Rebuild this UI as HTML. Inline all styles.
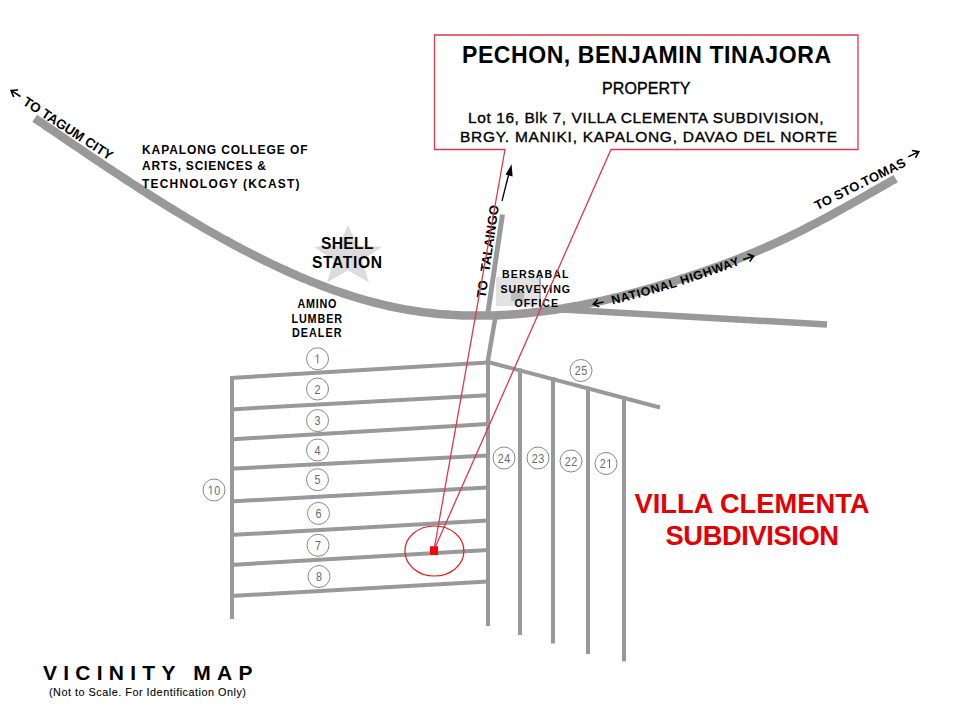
<!DOCTYPE html>
<html><head><meta charset="utf-8"><style>
html,body{margin:0;padding:0;background:#fff;overflow:hidden;}
svg{display:block;font-family:"Liberation Sans",sans-serif;}
</style></head><body>
<svg width="960" height="720" viewBox="0 0 960 720">
<rect width="960" height="720" fill="#fff"/>
<polygon fill="#dcdcdc" points="348.0,224.4 356.8,245.6 381.8,246.7 362.3,260.8 368.9,282.6 348.0,270.2 327.1,282.6 333.7,260.8 314.2,246.7 339.2,245.6"/>
<rect x="496" y="277" width="44" height="29" fill="#e2e2e2"/>
<rect x="539" y="277" width="2" height="29" fill="#aaaaaa"/>
<rect x="511" y="290" width="13" height="11" fill="#bdbdbd"/>
<g fill="none" stroke="#999999" stroke-linecap="butt" stroke-linejoin="round">
<path d="M34.7,118.2 L38.7,120.9 L42.7,123.6 L46.7,126.4 L50.7,129.1 L54.7,131.8 L58.7,134.6 L62.7,137.3 L66.7,140.0 L70.7,142.7 L74.7,145.4 L78.7,148.1 L82.7,150.8 L86.7,153.5 L90.7,156.2 L94.7,158.9 L98.7,161.6 L102.7,164.2 L106.7,166.9 L110.7,169.6 L114.7,172.2 L118.7,174.8 L122.7,177.5 L126.7,180.1 L130.7,182.7 L134.7,185.3 L138.7,187.9 L142.7,190.4 L146.7,193.0 L150.7,195.6 L154.7,198.1 L158.7,200.6 L162.7,203.1 L166.7,205.6 L170.7,208.1 L174.7,210.5 L178.7,213.0 L182.7,215.4 L186.7,217.8 L190.7,220.2 L194.7,222.6 L198.7,224.9 L202.7,227.3 L206.7,229.6 L210.7,231.9 L214.7,234.1 L218.7,236.4 L222.7,238.6 L226.7,240.8 L230.7,243.0 L234.7,245.2 L238.7,247.3 L242.7,249.4 L246.7,251.5 L250.7,253.6 L254.7,255.6 L258.7,257.6 L262.7,259.6 L266.7,261.6 L270.7,263.5 L274.7,265.4 L278.7,267.3 L282.7,269.2 L286.7,271.0 L290.7,272.8 L294.7,274.5 L298.7,276.3 L302.7,278.0 L306.7,279.6 L310.7,281.3 L314.7,282.9 L318.7,284.4 L322.7,286.0 L326.7,287.5 L330.7,288.9 L334.7,290.4 L338.7,291.8 L342.7,293.1 L346.7,294.4 L350.7,295.7 L354.7,297.0 L358.7,298.2 L362.7,299.4 L366.7,300.5 L370.7,301.6 L374.7,302.6 L378.7,303.7 L382.7,304.6 L386.7,305.6 L390.7,306.5 L394.7,307.3 L398.7,308.1 L402.7,308.9 L406.7,309.6 L410.7,310.3 L414.7,310.9 L418.7,311.5 L422.7,312.1 L426.7,312.6 L430.7,313.0 L434.7,313.5 L438.7,313.9 L442.7,314.2 L446.7,314.5 L450.7,314.8 L454.7,315.0 L458.7,315.2 L462.7,315.4 L466.7,315.5 L470.7,315.6 L474.7,315.6 L478.7,315.6 L482.7,315.6 L486.7,315.6 L490.7,315.5 L494.7,315.4 L498.7,315.2 L502.7,315.0 L506.7,314.8 L510.7,314.5 L514.7,314.2 L518.7,313.9 L522.7,313.6 L526.7,313.2 L530.7,312.8 L534.7,312.3 L538.7,311.8 L542.7,311.3 L546.7,310.8 L550.7,310.2 L554.7,309.7 L558.7,309.0 L562.7,308.4 L566.7,307.7 L570.7,307.0 L574.7,306.3 L578.7,305.6 L582.7,304.8 L586.7,304.0 L590.7,303.2 L594.7,302.3 L598.7,301.4 L602.7,300.6 L606.7,299.6 L610.7,298.7 L614.7,297.7 L618.7,296.8 L622.7,295.8 L626.7,294.7 L630.7,293.7 L634.7,292.6 L638.7,291.5 L642.7,290.4 L646.7,289.3 L650.7,288.2 L654.7,287.0 L658.7,285.8 L662.7,284.7 L666.7,283.4 L670.7,282.2 L674.7,281.0 L678.7,279.7 L682.7,278.4 L686.7,277.2 L690.7,275.8 L694.7,274.5 L698.7,273.2 L702.7,271.8 L706.7,270.4 L710.7,269.0 L714.7,267.6 L718.7,266.2 L722.7,264.7 L726.7,263.2 L730.7,261.7 L734.7,260.2 L738.7,258.6 L742.7,257.0 L746.7,255.4 L750.7,253.8 L754.7,252.1 L758.7,250.4 L762.7,248.7 L766.7,247.0 L770.7,245.2 L774.7,243.4 L778.7,241.6 L782.7,239.7 L786.7,237.8 L790.7,235.9 L794.7,233.9 L798.7,232.0 L802.7,229.9 L806.7,227.9 L810.7,225.8 L814.7,223.8 L818.7,221.6 L822.7,219.5 L826.7,217.4 L830.7,215.2 L834.7,213.0 L838.7,210.8 L842.7,208.6 L846.7,206.4 L850.7,204.1 L854.7,201.9 L858.7,199.6 L862.7,197.4 L866.7,195.1 L870.7,192.8 L874.7,190.5 L878.7,188.3 L882.7,186.0 L886.7,183.7 L890.7,181.4 L894.7,179.2 L895.7,178.6" stroke-width="8.5"/>
<line x1="562" y1="309.5" x2="827" y2="324.5" stroke-width="6.5"/>
<line x1="502.5" y1="214.5" x2="488" y2="312" stroke-width="5"/>
<line x1="495.6" y1="316" x2="487.5" y2="363" stroke-width="4.5"/>
</g>
<g fill="none" stroke="#999999" stroke-width="4" stroke-linecap="butt">
<line x1="232" y1="376" x2="232" y2="619"/>
<line x1="488" y1="361" x2="488" y2="626"/>
<line x1="488" y1="362" x2="660" y2="407.5"/>
<line x1="230" y1="378.0" x2="488" y2="362.5"/>
<line x1="230" y1="409.4" x2="488" y2="395.3"/>
<line x1="230" y1="439.4" x2="488" y2="424.0"/>
<line x1="230" y1="468.8" x2="488" y2="455.6"/>
<line x1="230" y1="501.5" x2="488" y2="487.5"/>
<line x1="230" y1="535.0" x2="488" y2="520.6"/>
<line x1="230" y1="565.0" x2="488" y2="550.0"/>
<line x1="230" y1="596.0" x2="488" y2="581.5"/>
<line x1="520" y1="368.5" x2="520" y2="635.0"/>
<line x1="553" y1="377.2" x2="553" y2="643.5"/>
<line x1="588" y1="386.5" x2="588" y2="654.0"/>
<line x1="624" y1="396.0" x2="624" y2="661.5"/>
</g>
<g fill="#fff" stroke="#888" stroke-width="1"><circle cx="317.5" cy="358.8" r="11"/><circle cx="317.5" cy="389.0" r="11"/><circle cx="317.5" cy="420.6" r="11"/><circle cx="317.5" cy="450.0" r="11"/><circle cx="317.5" cy="479.7" r="11"/><circle cx="318.5" cy="513.4" r="11"/><circle cx="318.0" cy="545.3" r="11"/><circle cx="319.0" cy="576.5" r="11"/><circle cx="214.0" cy="490.0" r="11"/><circle cx="504.0" cy="458.0" r="11"/><circle cx="538.0" cy="458.0" r="11"/><circle cx="571.0" cy="461.0" r="11"/><circle cx="606.0" cy="463.5" r="11"/><circle cx="581.0" cy="370.5" r="11"/></g>
<g><path d="M315.40,356.75 L317.80,354.65 L317.80,363.35" fill="none" stroke="#6a6a6a" stroke-width="1.0"/><text x="314.50" y="393.60" font-size="12.8" fill="#6a6a6a" textLength="6.00" lengthAdjust="spacingAndGlyphs">2</text><text x="314.50" y="425.20" font-size="12.8" fill="#6a6a6a" textLength="6.00" lengthAdjust="spacingAndGlyphs">3</text><text x="314.50" y="454.60" font-size="12.8" fill="#6a6a6a" textLength="6.00" lengthAdjust="spacingAndGlyphs">4</text><text x="314.50" y="484.30" font-size="12.8" fill="#6a6a6a" textLength="6.00" lengthAdjust="spacingAndGlyphs">5</text><text x="315.50" y="518.00" font-size="12.8" fill="#6a6a6a" textLength="6.00" lengthAdjust="spacingAndGlyphs">6</text><text x="315.00" y="549.90" font-size="12.8" fill="#6a6a6a" textLength="6.00" lengthAdjust="spacingAndGlyphs">7</text><text x="316.00" y="581.10" font-size="12.8" fill="#6a6a6a" textLength="6.00" lengthAdjust="spacingAndGlyphs">8</text><path d="M208.65,488.00 L211.05,485.90 L211.05,494.60" fill="none" stroke="#6a6a6a" stroke-width="1.0"/><text x="214.25" y="494.60" font-size="12.8" fill="#6a6a6a" textLength="6.00" lengthAdjust="spacingAndGlyphs">0</text><text x="497.75" y="462.60" font-size="12.8" fill="#6a6a6a" textLength="6.00" lengthAdjust="spacingAndGlyphs">2</text><text x="504.25" y="462.60" font-size="12.8" fill="#6a6a6a" textLength="6.00" lengthAdjust="spacingAndGlyphs">4</text><text x="531.75" y="462.60" font-size="12.8" fill="#6a6a6a" textLength="6.00" lengthAdjust="spacingAndGlyphs">2</text><text x="538.25" y="462.60" font-size="12.8" fill="#6a6a6a" textLength="6.00" lengthAdjust="spacingAndGlyphs">3</text><text x="564.75" y="465.60" font-size="12.8" fill="#6a6a6a" textLength="6.00" lengthAdjust="spacingAndGlyphs">2</text><text x="571.25" y="465.60" font-size="12.8" fill="#6a6a6a" textLength="6.00" lengthAdjust="spacingAndGlyphs">2</text><text x="599.75" y="468.10" font-size="12.8" fill="#6a6a6a" textLength="6.00" lengthAdjust="spacingAndGlyphs">2</text><path d="M607.15,461.50 L609.55,459.40 L609.55,468.10" fill="none" stroke="#6a6a6a" stroke-width="1.0"/><text x="574.75" y="375.10" font-size="12.8" fill="#6a6a6a" textLength="6.00" lengthAdjust="spacingAndGlyphs">2</text><text x="581.25" y="375.10" font-size="12.8" fill="#6a6a6a" textLength="6.00" lengthAdjust="spacingAndGlyphs">5</text></g>
<text x="462.0" y="63.0" font-size="23.00" font-weight="bold" fill="#000" text-anchor="start" textLength="369.0" lengthAdjust="spacing" >PECHON, BENJAMIN TINAJORA</text>
<text x="602.0" y="93.9" font-size="16.00" font-weight="normal" fill="#000" text-anchor="start" textLength="88.5" lengthAdjust="spacing" stroke="#000" stroke-width="0.35">PROPERTY</text>
<text x="468.0" y="122.5" font-size="15.50" font-weight="normal" fill="#000" text-anchor="start" textLength="355.5" lengthAdjust="spacing" stroke="#000" stroke-width="0.35">Lot 16, Blk 7, VILLA CLEMENTA SUBDIVISION,</text>
<text x="460.0" y="141.5" font-size="15.50" font-weight="normal" fill="#000" text-anchor="start" textLength="377.0" lengthAdjust="spacing" stroke="#000" stroke-width="0.35">BRGY. MANIKI, KAPALONG, DAVAO DEL NORTE</text>
<text transform="translate(142.00,153.70) scale(0.880,1)" font-size="13.60" font-weight="bold" fill="#000" text-anchor="start" textLength="188.07" lengthAdjust="spacing" >KAPALONG COLLEGE OF</text>
<text transform="translate(142.00,170.40) scale(0.880,1)" font-size="13.60" font-weight="bold" fill="#000" text-anchor="start" textLength="140.91" lengthAdjust="spacing" >ARTS, SCIENCES &amp;</text>
<text transform="translate(142.00,187.60) scale(0.880,1)" font-size="13.60" font-weight="bold" fill="#000" text-anchor="start" textLength="178.98" lengthAdjust="spacing" >TECHNOLOGY (KCAST)</text>
<text x="321.0" y="248.7" font-size="15.60" font-weight="bold" fill="#000" text-anchor="start" textLength="52.5" lengthAdjust="spacing" >SHELL</text>
<text x="312.0" y="267.6" font-size="15.60" font-weight="bold" fill="#000" text-anchor="start" textLength="70.0" lengthAdjust="spacing" >STATION</text>
<text transform="translate(297.50,307.60) scale(0.900,1)" font-size="12.00" font-weight="bold" fill="#000" text-anchor="start" textLength="43.33" lengthAdjust="spacing" >AMINO</text>
<text transform="translate(291.50,322.60) scale(0.900,1)" font-size="12.00" font-weight="bold" fill="#000" text-anchor="start" textLength="56.11" lengthAdjust="spacing" >LUMBER</text>
<text transform="translate(292.00,336.70) scale(0.900,1)" font-size="12.00" font-weight="bold" fill="#000" text-anchor="start" textLength="55.00" lengthAdjust="spacing" >DEALER</text>
<text transform="translate(502.00,277.70) scale(0.900,1)" font-size="11.80" font-weight="bold" fill="#000" text-anchor="start" textLength="73.89" lengthAdjust="spacing" >BERSABAL</text>
<text transform="translate(500.50,292.50) scale(0.900,1)" font-size="11.80" font-weight="bold" fill="#000" text-anchor="start" textLength="77.22" lengthAdjust="spacing" >SURVEYING</text>
<text transform="translate(514.50,306.60) scale(0.900,1)" font-size="11.80" font-weight="bold" fill="#000" text-anchor="start" textLength="48.33" lengthAdjust="spacing" >OFFICE</text>
<text x="634.5" y="512.6" font-size="27.30" font-weight="bold" fill="#e40000" text-anchor="start" textLength="235.0" lengthAdjust="spacing" >VILLA CLEMENTA</text>
<text x="665.5" y="544.5" font-size="27.30" font-weight="bold" fill="#e40000" text-anchor="start" textLength="173.5" lengthAdjust="spacing" >SUBDIVISION</text>
<text x="43.0" y="680.0" font-size="21.00" font-weight="bold" fill="#000" text-anchor="start" textLength="209.5" lengthAdjust="spacing" >VICINITY MAP</text>
<text transform="translate(49.00,696.30) scale(0.920,1)" font-size="11.80" font-weight="normal" fill="#000" text-anchor="start" textLength="214.13" lengthAdjust="spacing" stroke="#000" stroke-width="0.1">(Not to Scale. For Identification Only)</text>
<g transform="translate(22,104.05) rotate(33)"><text x="0.0" y="0.0" font-size="13.40" font-weight="bold" fill="#000" text-anchor="start" textLength="104.0" lengthAdjust="spacing" >TO TAGUM CITY</text><path d="M-5.4,-5.5 L-16.6,-5.5 M-10.9,-9.6 L-16.6,-5.5 L-10.9,-1.4" stroke="#000" stroke-width="1.6" fill="none"/></g>
<g transform="translate(485.4,298.6) rotate(-81.7)"><text x="0.0" y="0.0" font-size="13.00" font-weight="bold" fill="#000" text-anchor="start" textLength="17.8" lengthAdjust="spacing" >TO</text><text x="26.6" y="0.0" font-size="13.00" font-weight="bold" fill="#000" text-anchor="start" textLength="67.2" lengthAdjust="spacing" >TALAINGO</text></g>
<g transform="translate(817.25,210.2) rotate(-26.5)"><text x="0.0" y="0.0" font-size="13.00" font-weight="bold" fill="#000" text-anchor="start" textLength="100.0" lengthAdjust="spacing" >TO STO.TOMAS</text><path d="M105.2,-7.1 L117.0,-7.1 M111.3,-3.0 L117.0,-7.1 L111.3,-11.2" stroke="#000" stroke-width="1.6" fill="none"/></g>
<g font-size="12.3" font-weight="bold" fill="#000"><text transform="translate(612.39,304.48) rotate(-13.77)">N</text><text transform="translate(621.70,302.20) rotate(-14.30)">A</text><text transform="translate(630.10,300.05) rotate(-14.84)">T</text><text transform="translate(638.03,297.94) rotate(-15.37)">I</text><text transform="translate(642.01,296.87) rotate(-15.77)">O</text><text transform="translate(651.90,294.09) rotate(-16.25)">N</text><text transform="translate(661.10,291.40) rotate(-16.77)">A</text><text transform="translate(670.28,288.64) rotate(-17.34)">L</text><text transform="translate(681.84,285.02) rotate(-17.81)">H</text><text transform="translate(690.96,282.08) rotate(-18.21)">I</text><text transform="translate(694.87,280.79) rotate(-18.49)">G</text><text transform="translate(704.61,277.51) rotate(-19.17)">H</text><text transform="translate(713.66,274.36) rotate(-19.85)">W</text><text transform="translate(724.60,270.39) rotate(-20.51)">A</text><text transform="translate(732.53,267.43) rotate(-21.18)">Y</text></g>
<path d="M603.6,302.0 L593.4,304.2 M597.7,299.4 L593.4,304.2 L599.3,306.8" stroke="#000" stroke-width="1.6" fill="none"/>
<path d="M743.2,259.4 L753.6,256.2 M749.7,261.4 L753.6,256.2 L747.5,254.1" stroke="#000" stroke-width="1.6" fill="none"/>
<line x1="502" y1="201" x2="509.3" y2="172" stroke="#000" stroke-width="1.3"/>
<polygon points="511.6,164.2 505.6,174.6 512.6,176.4" fill="#000"/>
<path d="M434.5,35 H858 V149.5 H611 L434,550 L505,149.5 H434.5 Z" fill="none" stroke="#dc3a4c" stroke-width="1.3"/>
<ellipse cx="434.4" cy="551" rx="29.5" ry="25" fill="none" stroke="#e02020" stroke-width="1.2"/>
<rect x="430" y="546.3" width="8" height="8.7" fill="#ff0000"/>
</svg>
</body></html>
